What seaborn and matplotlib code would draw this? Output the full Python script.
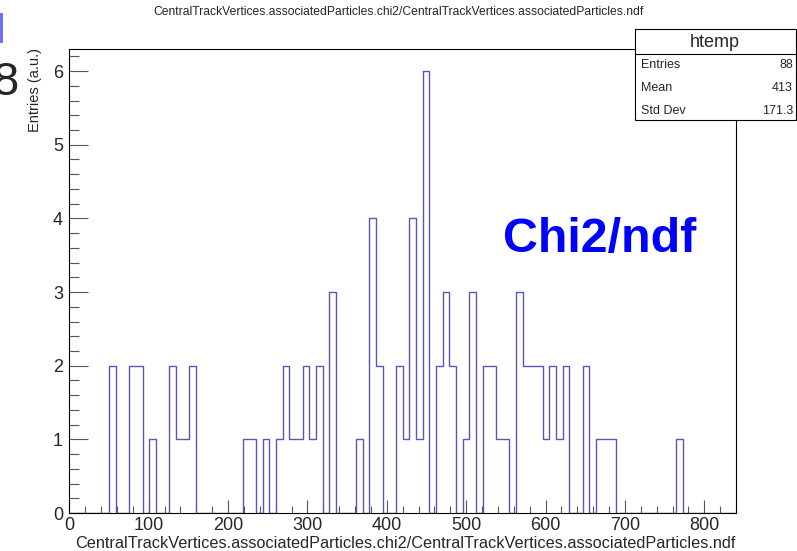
import numpy as np
import pandas as pd
import matplotlib
matplotlib.use("Agg")
import matplotlib.pyplot as plt
from matplotlib.patches import Rectangle
from matplotlib.lines import Line2D
from matplotlib.ticker import MultipleLocator
import seaborn as sns

# histogram htemp: 100 bins between 0 and 840, counts
x_min = 0.0
x_max = 840.0
n_bins = 100
filled_bins = [6, 9, 10, 12, 15, 16, 17, 18, 26, 27, 29, 31, 32, 33, 34, 35, 36, 37,
               39, 43, 45, 46, 49, 50, 51, 52, 53, 55, 56, 57, 59, 60, 62, 63, 64, 65,
               67, 68, 69, 70, 71, 72, 73, 74, 77, 79, 80, 81, 91]
filled_counts = [2, 2, 2, 1, 2, 1, 1, 2, 1, 1, 1, 1, 2, 1, 1, 2, 1, 2,
                 3, 1, 4, 2, 2, 1, 4, 1, 6, 2, 3, 2, 1, 3, 2, 2, 1, 1,
                 3, 2, 2, 2, 1, 2, 1, 2, 2, 1, 1, 1, 1]

stat_names = ["Entries", "Mean", "Std Dev"]
stat_values = ["88", "413", "171.3"]

var_name = ("CentralTrackVertices.associatedParticles.chi2/"
            "CentralTrackVertices.associatedParticles.ndf")

W, H = 797, 551


def fx(px):
    return px / W


def fy(py):
    return 1 - py / H


def main():
    width = (x_max - x_min) / n_bins
    centers = x_min + width * (np.arange(n_bins) + 0.5)
    counts = np.zeros(n_bins)
    counts[filled_bins] = filled_counts
    df = pd.DataFrame({"x": centers, "w": counts})

    sns.set_theme(style="white")
    plt.rcParams["font.family"] = ["Liberation Sans", "DejaVu Sans"]

    fig = plt.figure(figsize=(W / 100, H / 100), dpi=100)
    ax = fig.add_axes([fx(69.3), fy(513), fx(736) - fx(69.3), fy(49) - fy(513)])

    sns.histplot(data=df, x="x", weights="w", binwidth=width, binrange=(x_min, x_max),
                 element="step", fill=False, color="#5858b8", linewidth=1.0, ax=ax)

    ax.set_xlim(x_min, x_max)
    ax.set_ylim(0, 6.3)
    ax.set_xlabel("")
    ax.set_ylabel("")
    ax.xaxis.set_major_locator(MultipleLocator(100))
    ax.xaxis.set_minor_locator(MultipleLocator(20))
    ax.yaxis.set_major_locator(MultipleLocator(1))
    ax.yaxis.set_minor_locator(MultipleLocator(0.2))
    ax.tick_params(axis="x", which="major", direction="in", length=9.5, width=0.8,
                   color="#555555", labelsize=13, pad=3, bottom=True)
    ax.tick_params(axis="x", which="minor", direction="in", length=5, width=0.8,
                   color="#555555", bottom=True)
    ax.tick_params(axis="y", which="major", direction="in", length=13.5, width=0.8,
                   color="#555555", labelsize=13, pad=4.5, left=True)
    ax.tick_params(axis="y", which="minor", direction="in", length=7, width=0.8,
                   color="#555555", left=True)
    for s in ax.spines.values():
        s.set_color("black")
        s.set_linewidth(0.8)

    # axis titles, ROOT style (right/top aligned)
    fig.text(fx(736), fy(548), var_name, ha="right", va="baseline", fontsize=11.7)
    fig.text(fx(399), fy(15), var_name, ha="center", va="baseline", fontsize=8.75)
    fig.text(fx(39.5), fy(48), "Entries (a.u.)", rotation=90, ha="right", va="baseline",
             fontsize=10.5, rotation_mode="anchor")

    fig.text(fx(503), fy(252), "Chi2/ndf", color="#0000ff", fontsize=34.8,
             fontweight="bold", ha="left", va="baseline")

    # clipped leftovers at the top-left corner
    fig.text(fx(19), fy(95), "8", fontsize=34, ha="right", va="baseline")
    fig.patches.append(Rectangle((0, fy(43)), fx(2.5), fy(13) - fy(43),
                                 transform=fig.transFigure, color="#6f6fff", lw=0))

    # stats box
    fig.patches.append(Rectangle((fx(635), fy(120)), fx(796) - fx(635), fy(29) - fy(120),
                                 transform=fig.transFigure, facecolor="white",
                                 edgecolor="black", lw=0.8, zorder=5))
    fig.lines.append(Line2D([fx(635), fx(796)], [fy(54), fy(54)],
                            transform=fig.transFigure, color="black", lw=0.8, zorder=6))
    fig.text(fx(715), fy(47), "htemp", ha="center", va="baseline", fontsize=13, zorder=7)
    for i, (name, val) in enumerate(zip(stat_names, stat_values)):
        y = 68 + i * 23
        fig.text(fx(641), fy(y), name, ha="left", va="baseline", fontsize=9, zorder=7)
        fig.text(fx(793), fy(y), val, ha="right", va="baseline", fontsize=9, zorder=7)

    fig.savefig("out.png", dpi=100)


if __name__ == "__main__":
    main()
